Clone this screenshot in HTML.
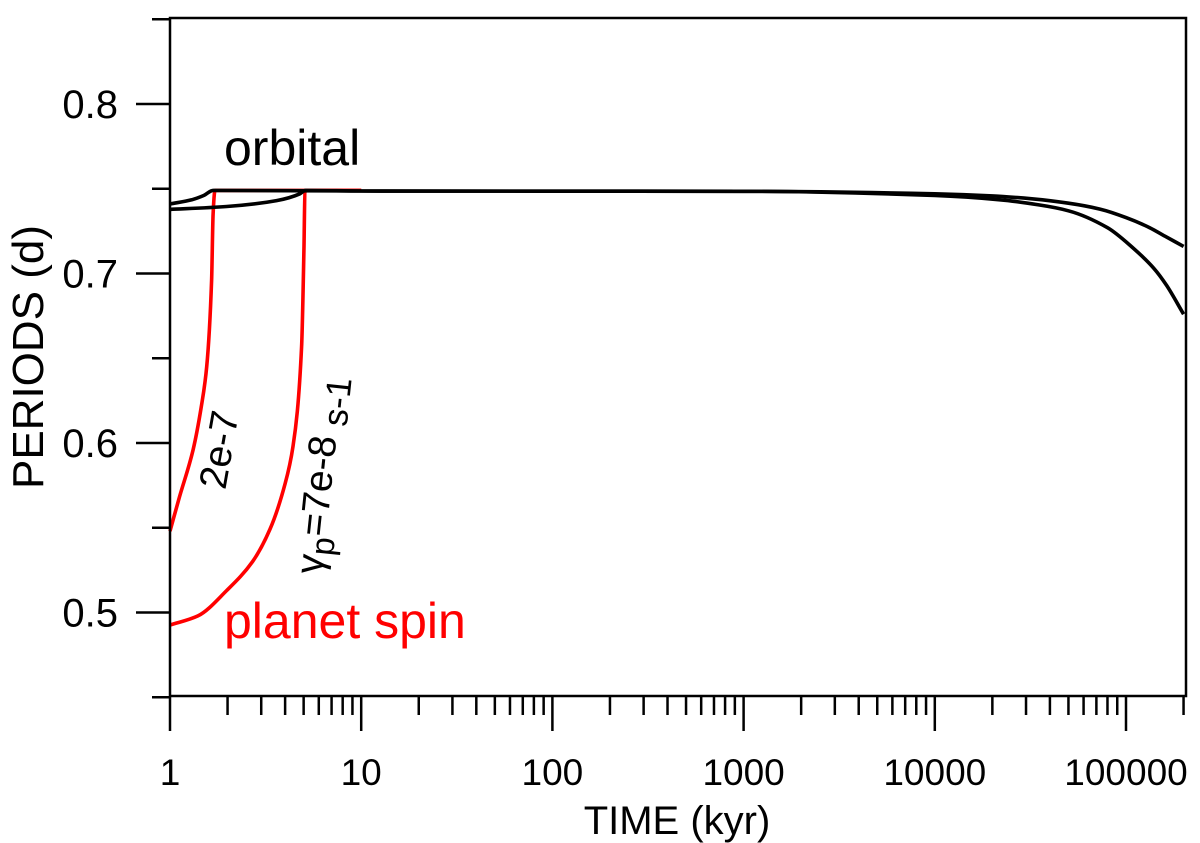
<!DOCTYPE html>
<html><head><meta charset="utf-8"><style>
body{margin:0;background:#fff}
svg{display:block;font-family:"Liberation Sans",sans-serif}
</style></head><body>
<svg id="c" width="1200" height="843" viewBox="0 0 1200 843"></svg>
<script>
const yTicks=[0.5,0.6,0.7,0.8];
const xTickLabels=["1","10","100","1000","10000","100000"];
const orbitalUpperT=[1,1.3,1.5,1.68,10,1000,10000,20000,32700,50000,73000,100000,133000,160000,200000];
const orbitalUpperP=[0.741,0.7435,0.746,0.749,0.7487,0.7485,0.747,0.7458,0.744,0.7415,0.738,0.733,0.727,0.722,0.716];
const orbitalLowerT=[1,1.98,3.61,4.78,5.1,10,1000,10000,21900,35000,50000,80000,109000,140000,163000,200000];
const orbitalLowerP=[0.7378,0.7395,0.743,0.747,0.749,0.7487,0.7485,0.746,0.7435,0.7405,0.737,0.727,0.715,0.703,0.693,0.676];
const spinFastT=[1,1.12,1.32,1.45,1.556,1.65,1.68,1.72,10];
const spinFastP=[0.548,0.568,0.596,0.62,0.645,0.696,0.735,0.749,0.749];
const spinSlowT=[1,1.4,1.98,2.7,3.33,4.0,4.4,4.88,5.02,5.08,5.2,10];
const spinSlowP=[0.4926,0.498,0.513,0.53,0.549,0.576,0.598,0.657,0.716,0.748,0.749,0.749];
const L=170,R=1186,T=18,B=696;
const X=t=>L+Math.log10(t)*191.2;
const Y=p=>104+(0.8-p)*1695;
const svg=document.getElementById('c');
const NS='http://www.w3.org/2000/svg';
function mk(tag,at,parent){const e=document.createElementNS(NS,tag);for(const k in at)e.setAttribute(k,at[k]);(parent||svg).appendChild(e);return e;}
// monotone cubic (Fritsch-Carlson) in pixel space
function monotone(xs,ys){
  const n=xs.length,dx=[],s=[],m=[];
  for(let i=0;i<n-1;i++){dx[i]=xs[i+1]-xs[i];s[i]=(ys[i+1]-ys[i])/dx[i];}
  m[0]=s[0];m[n-1]=s[n-2];
  for(let i=1;i<n-1;i++){m[i]=(s[i-1]*s[i]<=0)?0:(3*(dx[i-1]+dx[i]))/((2*dx[i]+dx[i-1])/s[i-1]+(dx[i]+2*dx[i-1])/s[i]);}
  let d='M'+xs[0].toFixed(1)+' '+ys[0].toFixed(1);
  for(let i=0;i<n-1;i++){const h=dx[i]/3;
    d+=' C'+(xs[i]+h).toFixed(1)+' '+(ys[i]+m[i]*h).toFixed(1)+' '+(xs[i+1]-h).toFixed(1)+' '+(ys[i+1]-m[i+1]*h).toFixed(1)+' '+xs[i+1].toFixed(1)+' '+ys[i+1].toFixed(1);}
  return d;
}
function line(ts,ps,col,name){
  const e=mk('path',{d:monotone(ts.map(X),ps.map(Y)),fill:'none',stroke:col,'stroke-width':3.6,'stroke-linejoin':'round'});
  
  
}
line(spinFastT,spinFastP,'#ff0000','planet-spin-2e-7');
line(spinSlowT,spinSlowP,'#ff0000','planet-spin-7e-8');
line(orbitalUpperT,orbitalUpperP,'#000','orbital-period-2e-7');
line(orbitalLowerT,orbitalLowerP,'#000','orbital-period-7e-8');
const frame=mk('rect',{x:L,y:T,width:R-L,height:B-T,fill:'none',stroke:'#000','stroke-width':2.5});


for(let k=0;k<=7;k++){const v=0.5+k*0.05;mk('line',{x1:L-(k%2==0?34:18),x2:L,y1:Y(v),y2:Y(v),stroke:'#000','stroke-width':2.5});}
mk('line',{x1:L-18,x2:L,y1:Y(0.45),y2:Y(0.45),stroke:'#000','stroke-width':2.5});
yTicks.forEach(v=>{
  const t=mk('text',{x:118,y:Y(v)+14,'text-anchor':'end','font-size':40,fill:'#000'});t.textContent=v.toFixed(1);
  
  
});
for(let d=0;d<6;d++){for(let m=1;m<10;m++){const t=m*Math.pow(10,d);const x=X(t);if(x>R)break;
  mk('line',{x1:x,x2:x,y1:B,y2:B+(m==1?35:19),stroke:'#000','stroke-width':2.5});}}
xTickLabels.forEach((s,i)=>{
  const t=mk('text',{x:X(Math.pow(10,i)),y:785,'text-anchor':'middle','font-size':37,fill:'#000'});t.textContent=s;
  
  
});
function txt(s,at,name){const t=mk('text',at);t.textContent=s;return t;}
txt('TIME (kyr)',{x:677,y:834,'text-anchor':'middle','font-size':40},'x-axis-title');
txt('PERIODS (d)',{x:0,y:0,'text-anchor':'middle','font-size':44,transform:'translate(43,357) rotate(-90)'},'y-axis-title');
txt('orbital',{x:224,y:165,'font-size':50},'orbital-label');
txt('planet spin',{x:224,y:638,'font-size':50,fill:'#ff0000'},'planet-spin-label');
txt('2e-7',{x:0,y:0,'font-size':39,'text-anchor':'middle',transform:'translate(232,452) rotate(-80)'},'rate-2e-7-label');
const g=txt('',{x:0,y:0,'font-size':39,transform:'translate(322,575) rotate(-84)'},'rate-7e-8-label');
g.innerHTML='γ<tspan dy="9" font-size="33">p</tspan><tspan dy="-9">=7e-8 </tspan><tspan dy="9" font-size="35">s-1</tspan>';
</script>
</body></html>
